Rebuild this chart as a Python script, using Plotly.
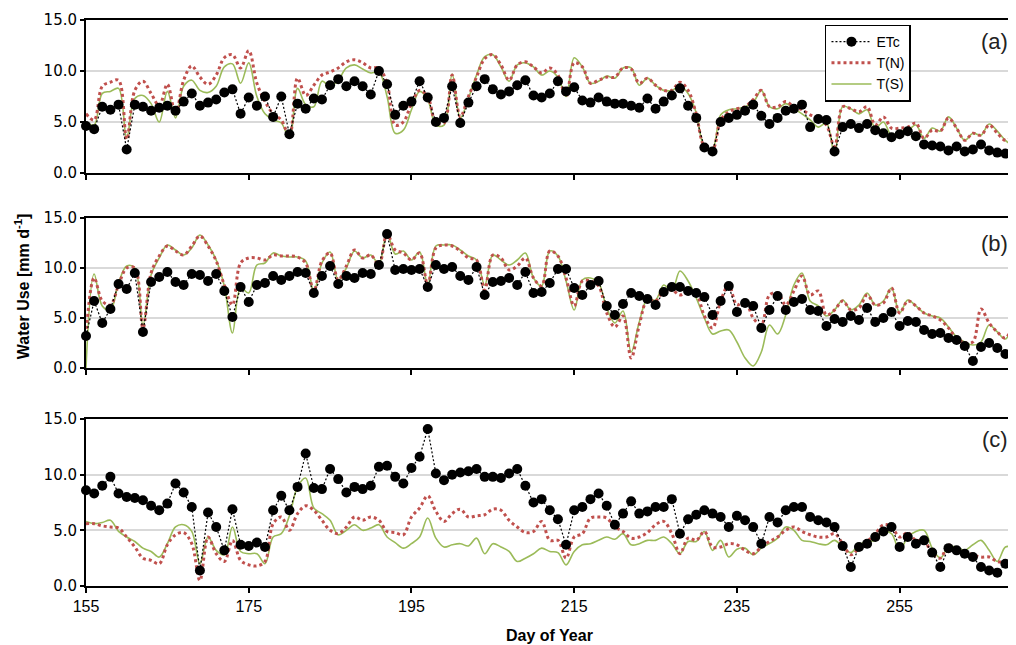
import plotly.graph_objects as go

days = list(range(155, 270))

a_etc = [4.6,4.3,6.5,6.2,6.7,2.3,6.7,6.5,6.1,6.4,6.6,6.1,7.0,7.8,6.6,6.9,7.2,7.9,8.2,5.8,
         7.4,6.6,7.5,5.5,7.5,3.8,6.8,6.3,7.3,7.2,8.6,9.2,8.5,9.0,8.5,7.7,10.0,8.7,5.7,6.6,
         7.0,9.0,7.4,5.0,5.4,8.5,4.9,6.9,8.5,9.2,8.2,7.7,8.0,8.6,9.1,7.6,7.4,7.8,9.0,8.0,
         8.4,7.1,6.9,7.4,7.0,6.8,6.8,6.6,6.4,7.3,6.3,7.0,7.6,8.3,6.6,5.4,2.5,2.1,5.0,5.4,
         5.7,6.1,6.7,5.6,4.8,5.4,6.1,6.3,6.7,4.5,5.3,5.2,2.1,4.5,4.8,4.4,4.8,4.2,3.9,3.5,
         3.8,4.1,3.6,2.8,2.7,2.6,2.2,2.6,2.1,2.3,2.8,2.2,2.0,1.9,1.8]
a_tn = [5.8,5.2,8.5,8.9,9.1,3.3,8.1,9.0,7.8,6.6,8.7,5.8,9.1,10.5,9.4,8.7,9.6,11.3,11.6,10.3,
        12.0,8.8,7.0,5.8,5.2,3.6,9.3,7.6,8.6,9.6,9.9,10.3,10.9,11.1,10.8,10.3,10.3,8.8,4.7,5.0,
        6.8,8.1,7.5,5.0,4.9,9.6,5.5,7.5,9.4,11.2,11.6,10.6,9.1,10.6,10.9,10.4,9.8,10.3,9.6,7.5,
        10.8,10.4,8.8,9.1,9.4,9.4,10.3,10.2,8.8,9.3,8.6,8.1,8.1,8.9,8.1,5.8,2.6,2.3,5.2,6.0,
        6.3,6.5,7.2,8.1,6.5,6.5,7.0,6.5,6.2,5.7,5.4,4.7,2.6,6.5,6.3,6.0,6.5,4.7,5.5,4.4,
        4.4,4.5,4.9,3.4,4.2,4.1,5.4,4.4,3.2,3.9,3.7,4.7,3.9,3.2,3.6]
a_ts = [5.0,4.7,7.8,8.0,8.3,3.4,7.3,7.6,6.8,5.0,8.0,5.4,8.5,9.1,8.1,7.9,8.5,10.4,10.7,8.8,
        10.8,7.5,5.8,5.2,4.9,3.4,8.3,6.7,6.5,9.0,8.5,9.1,10.3,10.6,10.2,9.8,9.9,7.5,3.9,4.2,
        6.2,8.0,7.2,4.7,4.7,9.7,5.4,7.3,9.6,11.4,11.6,10.4,9.0,10.6,10.8,10.4,9.6,10.0,9.4,7.5,
        11.3,10.4,8.8,9.0,9.5,9.3,10.3,10.3,8.6,9.3,8.6,8.1,8.1,8.5,7.8,5.9,2.6,2.4,5.7,6.2,
        6.3,6.5,6.9,8.1,6.5,6.3,6.8,6.3,5.8,5.2,4.5,4.9,1.8,6.5,6.3,5.8,6.2,4.4,5.0,3.7,
        4.1,4.2,4.7,3.4,4.4,4.1,5.5,4.4,3.2,3.9,3.7,4.8,4.1,3.2,2.6]

b_etc = [3.2,6.7,4.5,5.9,8.4,7.9,9.5,3.6,8.6,9.1,9.6,8.6,8.3,9.4,9.3,8.7,9.4,7.7,5.1,8.1,
         6.6,8.3,8.5,9.2,8.8,9.2,9.6,9.5,7.5,9.2,10.2,8.4,9.2,9.0,9.5,9.4,10.3,13.4,9.8,9.9,
         9.8,9.9,8.1,10.3,9.9,10.1,9.2,8.8,10.1,7.3,8.6,8.7,9.0,8.3,9.6,7.5,7.6,8.5,9.9,9.9,
         8.0,7.3,8.3,8.7,6.2,5.3,6.4,7.5,7.2,6.9,6.3,7.6,8.1,8.1,7.7,7.5,7.1,5.3,6.7,8.2,
         5.6,6.5,6.2,4.0,5.8,7.2,5.8,6.6,6.9,5.8,5.7,4.2,4.9,4.6,5.2,4.8,6.0,4.6,5.0,5.6,
         4.2,4.7,4.6,3.8,3.4,3.5,3.0,2.8,2.2,0.7,2.1,2.5,2.0,1.4,2.5]
b_tn = [3.3,9.0,6.7,6.3,8.3,10.0,10.0,4.0,9.5,11.2,12.2,11.7,11.3,12.2,13.2,12.2,10.7,8.3,6.3,10.5,
        11.0,11.0,10.8,11.3,11.2,11.2,11.1,10.5,7.7,10.7,11.5,8.8,10.2,11.8,11.0,11.3,10.3,13.4,11.8,11.5,
        10.8,11.5,8.3,12.0,12.3,12.2,11.7,11.0,10.8,7.8,11.3,11.0,9.8,10.2,11.0,9.0,8.2,11.7,11.2,9.0,
        6.2,8.7,8.7,8.2,5.5,4.1,5.2,1.0,4.3,6.8,6.7,7.7,7.8,7.3,7.7,7.4,5.2,4.0,6.7,8.3,
        6.3,6.7,5.0,4.3,7.3,7.5,6.3,7.7,9.2,7.3,7.7,5.3,5.8,6.7,5.8,6.0,7.3,6.3,6.5,8.0,
        5.5,6.7,6.2,5.5,5.2,4.8,4.0,3.0,2.5,2.6,5.9,4.5,3.6,3.0,4.5]
b_ts = [0.0,9.4,6.2,5.8,8.5,10.2,10.0,4.3,9.3,11.0,12.3,11.8,11.3,12.0,13.3,12.3,10.8,8.2,3.5,8.0,
        7.5,10.3,10.5,11.5,11.2,11.1,11.1,10.7,7.7,10.5,11.6,8.8,10.0,11.7,11.0,11.3,10.4,13.5,11.4,11.7,
        10.8,11.6,8.3,12.2,12.3,12.3,11.8,11.2,10.8,8.3,11.3,10.8,10.3,10.8,11.5,9.0,8.2,11.7,11.2,8.7,
        5.8,8.8,9.0,8.5,6.0,4.5,5.7,1.6,4.6,6.9,6.8,8.3,7.7,9.7,8.7,7.0,5.0,3.4,3.7,3.8,
        2.6,1.0,0.2,1.6,4.3,3.4,5.3,8.3,9.5,6.7,6.2,5.2,5.8,6.8,5.8,6.3,7.5,6.3,6.7,8.0,
        5.5,6.8,6.2,5.5,5.2,5.0,4.1,3.1,2.6,2.3,2.6,4.3,3.6,2.9,4.7]

c_etc = [8.6,8.3,9.0,9.8,8.3,8.0,7.9,7.7,7.2,6.8,7.4,9.2,8.4,7.1,1.4,6.6,5.3,3.2,6.9,3.7,
         3.6,3.9,3.5,6.8,8.1,6.8,8.9,11.9,8.8,8.7,10.5,9.6,8.4,8.9,8.7,9.0,10.7,10.8,9.8,9.2,
         10.6,11.6,14.1,10.1,9.5,10.0,10.2,10.3,10.5,9.8,9.8,9.7,10.1,10.5,9.0,7.5,7.8,6.8,6.0,3.7,
         6.8,7.1,7.8,8.3,7.2,5.5,6.5,7.6,6.5,6.7,7.1,7.1,7.8,4.7,6.0,6.4,6.8,6.5,6.2,5.3,
         6.3,5.9,5.3,3.8,6.2,5.7,6.8,7.1,7.1,6.2,5.9,5.7,5.3,3.6,1.7,3.5,3.8,4.4,4.9,5.3,
         3.5,4.4,3.8,4.1,3.0,1.7,3.4,3.2,2.9,2.6,1.7,1.4,1.2,2.0,2.0]
c_tn = [5.6,5.6,5.4,5.3,5.2,4.4,3.5,2.5,2.3,2.0,3.7,4.6,4.8,3.8,0.5,4.4,2.9,2.2,4.1,2.3,
        1.9,1.8,2.2,5.6,6.2,5.0,6.5,7.2,6.8,5.9,5.0,4.7,5.3,6.2,5.9,6.2,5.9,4.9,4.8,4.6,
        6.2,7.0,8.1,6.7,5.8,6.5,6.9,6.2,6.3,6.4,6.9,6.8,5.9,5.3,4.8,4.9,5.8,4.1,4.1,2.5,
        4.4,4.7,6.1,6.2,6.1,5.3,4.9,4.3,4.4,4.8,5.5,5.8,4.7,2.9,4.3,4.1,4.9,3.5,3.5,3.8,
        3.7,3.2,2.9,3.5,4.0,4.4,5.0,5.3,4.9,4.6,4.4,4.4,4.7,3.8,2.8,3.4,4.0,4.7,5.5,5.3,
        4.4,4.8,4.1,4.1,2.9,2.5,3.7,3.1,3.1,2.8,2.6,2.6,2.2,2.2,2.5]
c_ts = [5.8,5.6,5.7,5.9,4.9,4.4,4.0,3.4,3.1,2.6,3.8,5.3,5.5,4.9,2.0,4.4,3.2,2.8,5.3,3.1,
        2.9,2.9,2.0,4.4,4.7,6.3,8.9,9.7,7.0,6.5,5.9,4.6,5.0,5.5,5.0,5.2,5.5,4.4,3.9,3.4,
        3.8,4.4,6.1,4.3,3.5,3.7,3.8,3.6,4.3,2.9,3.8,3.5,3.1,2.2,2.5,2.9,3.4,3.1,3.0,1.9,
        3.1,3.7,3.8,4.1,4.4,4.2,4.7,3.7,3.8,4.1,4.1,4.4,3.8,2.9,4.0,4.0,4.9,3.2,4.1,2.6,
        3.3,3.4,2.8,3.4,3.8,4.3,5.3,5.0,4.1,4.0,3.8,3.7,4.1,3.5,3.0,3.7,4.0,4.1,4.9,4.7,
        3.2,4.4,4.9,5.0,3.4,2.5,3.5,3.5,3.2,3.7,4.1,3.2,2.2,3.5,3.5]

x_ticks = [155, 175, 195, 215, 235, 255]
y_ticks = [0, 5, 10, 15]
panel_labels = ["(a)", "(b)", "(c)"]
series_names = ["ETc", "T(N)", "T(S)"]

ETC_COLOR = "black"
TN_COLOR = "#c0504d"
TS_COLOR = "#9bbb59"

panels = [(a_etc, a_tn, a_ts), (b_etc, b_tn, b_ts), (c_etc, c_tn, c_ts)]
domains = [[0.7297, 1.0], [0.3852, 0.6502], [0.0, 0.2951]]

fig = go.Figure()
for i, (etc, tn, ts) in enumerate(panels):
    xa = "x" if i == 0 else f"x{i+1}"
    ya = "y" if i == 0 else f"y{i+1}"
    show = i == 0
    fig.add_trace(go.Scatter(x=days, y=ts, name=series_names[2], mode="lines",
                             line=dict(color=TS_COLOR, width=1.6, shape="spline", smoothing=1),
                             xaxis=xa, yaxis=ya, showlegend=show, legendrank=3, cliponaxis=False))
    fig.add_trace(go.Scatter(x=days, y=tn, name=series_names[1], mode="lines",
                             line=dict(color=TN_COLOR, width=3, dash="3px,3px", shape="spline", smoothing=1),
                             xaxis=xa, yaxis=ya, showlegend=show, legendrank=2, cliponaxis=False))
    fig.add_trace(go.Scatter(x=days, y=etc, name=series_names[0], mode="lines+markers",
                             line=dict(color=ETC_COLOR, width=1.2, dash="2px,2px"),
                             marker=dict(color=ETC_COLOR, size=10),
                             xaxis=xa, yaxis=ya, showlegend=show, legendrank=1, cliponaxis=False))

# The page body has an 8px margin, so the figure is drawn 8px smaller and shifted.
layout = dict(
    width=1008, height=637,
    margin=dict(l=78, r=0, t=12, b=59),
    paper_bgcolor="white", plot_bgcolor="white",
    showlegend=True,
    legend=dict(x=0.7946, y=0.992, xanchor="left", yanchor="top",
                bordercolor="black", borderwidth=1.5, bgcolor="white",
                font=dict(family="Liberation Sans, Arial, sans-serif", size=14, color="black"),
                tracegroupgap=0, itemwidth=40),
)
for i in range(3):
    xk = "xaxis" if i == 0 else f"xaxis{i+1}"
    yk = "yaxis" if i == 0 else f"yaxis{i+1}"
    ya = "y" if i == 0 else f"y{i+1}"
    xa = "x" if i == 0 else f"x{i+1}"
    layout[xk] = dict(domain=[0, 1], anchor=ya, range=[155, 269.3], tickvals=x_ticks,
                      showticklabels=(i == 2), ticks="outside", ticklen=5, tickwidth=1.5,
                      tickcolor="black", showline=True, linecolor="black", linewidth=2,
                      mirror=True, showgrid=False, zeroline=False,
                      tickfont=dict(family="Liberation Sans, Arial, sans-serif",
                                    size=16, color="black"))
    layout[yk] = dict(domain=domains[i], anchor=xa, range=[0, 15], tickvals=y_ticks,
                      tickformat=".1f", ticks="outside", ticklen=4, tickwidth=1.5,
                      tickcolor="black", showline=True, linecolor="black", linewidth=2,
                      showgrid=True, gridcolor="#d9d9d9", gridwidth=1.5, zeroline=False,
                      tickfont=dict(family="DejaVu Sans, sans-serif", size=15, color="black"))
fig.update_layout(**layout)

label_y = [0.962, 0.606, 0.259]
for lab, yy in zip(panel_labels, label_y):
    fig.add_annotation(text=lab, xref="paper", yref="paper", x=0.977, y=yy,
                       xanchor="center", yanchor="middle", showarrow=False,
                       font=dict(family="Liberation Sans, Arial, sans-serif", size=22, color="#222"))

fig.add_annotation(text="<b>Day of Year</b>", xref="paper", yref="paper", x=0.498, y=-0.087,
                   xanchor="center", yanchor="middle", showarrow=False,
                   font=dict(family="Liberation Sans, Arial, sans-serif", size=16, color="black"))
fig.add_annotation(text="<b>Water Use [mm d<sup>-1</sup>]</b>", xref="paper", yref="paper",
                   x=-0.0688, y=0.528, textangle=-90, xanchor="center", yanchor="middle",
                   showarrow=False,
                   font=dict(family="Liberation Sans, Arial, sans-serif", size=16, color="black"))

fig.write_html("out.html")
